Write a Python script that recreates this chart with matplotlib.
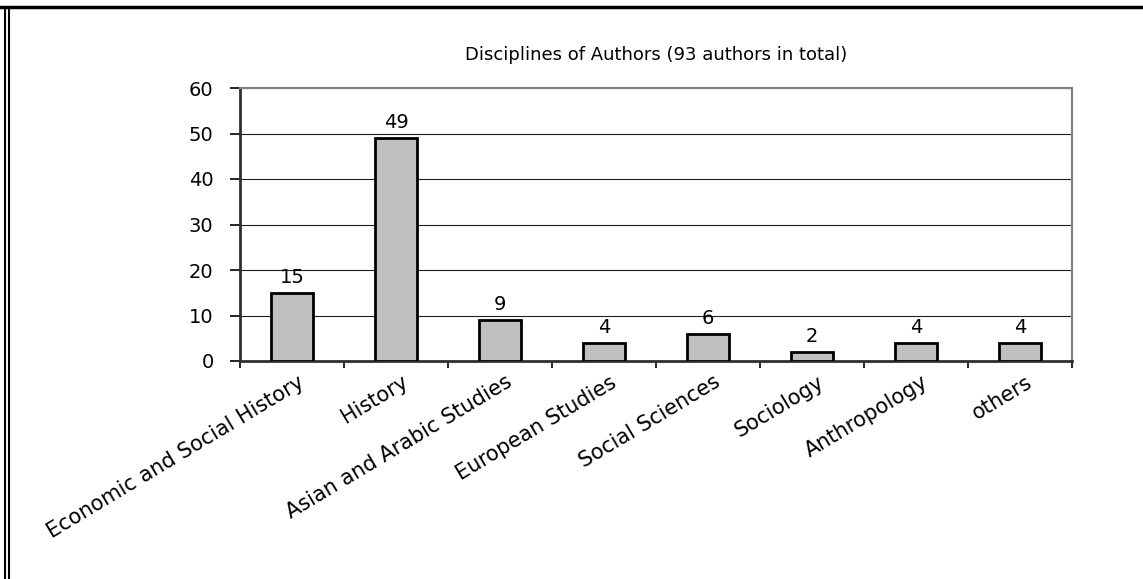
import matplotlib.pyplot as plt
from matplotlib.lines import Line2D
import numpy as np

# ----- data -----
categories = [
    "Economic and Social History",
    "History",
    "Asian and Arabic Studies",
    "European Studies",
    "Social Sciences",
    "Sociology",
    "Anthropology",
    "others",
]
counts = [15, 49, 9, 4, 6, 2, 4, 4]
yticks = [0, 10, 20, 30, 40, 50, 60]
title = "Disciplines of Authors (93 authors in total)"

# wide glyphs, the original looks horizontally stretched
plt.rcParams["font.family"] = ["DejaVu Sans"]

W, H = 1143, 579
fig = plt.figure(figsize=(W / 100, H / 100), dpi=100)
ax = fig.add_axes([240 / W, 1 - 361 / H, (1072 - 240) / W, (361 - 88) / H])

x = np.arange(len(categories))
ax.bar(x, counts, width=0.4, color="#c0c0c0", edgecolor="black", linewidth=2, zorder=3)
for xi, v in zip(x, counts):
    ax.annotate(str(v), (xi, v), xytext=(0, 7), textcoords="offset points",
                ha="center", va="baseline", fontsize=14)

ax.set_xlim(-0.5, len(categories) - 0.5)
ax.set_ylim(0, 60)
ax.set_yticks(yticks)
ax.tick_params(axis="y", labelsize=14, length=7, width=1.2, direction="out", pad=12)
ax.yaxis.grid(True, color="#202020", linewidth=0.8, zorder=0)

# category ticks at the boundaries, labels at the centres
ax.set_xticks(np.arange(len(categories) + 1) - 0.5)
ax.set_xticklabels([])
ax.tick_params(axis="x", which="major", length=5, width=1.2, direction="out")
ax.set_xticks(x + 0.05, minor=True)
ax.set_xticklabels(categories, minor=True, rotation=31, ha="right",
                   rotation_mode="anchor", fontsize=15)
ax.tick_params(axis="x", which="minor", length=0, pad=8)

for s in ["top", "right"]:
    ax.spines[s].set_color("#808080")
    ax.spines[s].set_linewidth(1.5)
for s in ["left", "bottom"]:
    ax.spines[s].set_color("#303030")
    ax.spines[s].set_linewidth(2)

fig.text((240 + 1072) / 2 / W, 1 - 55 / H, title, ha="center", va="center", fontsize=13)

# frame of the original picture
fig.add_artist(Line2D([0, 1], [1 - 7 / H, 1 - 7 / H], color="black", linewidth=2.5))
fig.add_artist(Line2D([5 / W, 5 / W], [0, 1 - 7 / H], color="black", linewidth=1.5))
fig.add_artist(Line2D([9 / W, 9 / W], [0, 1 - 7 / H], color="black", linewidth=1.5))

fig.savefig("out.png", dpi=100)
